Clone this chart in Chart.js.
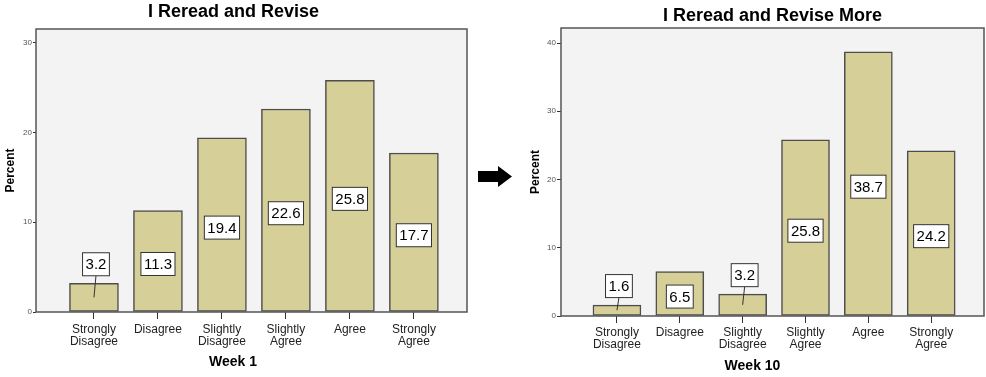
<!DOCTYPE html>
<html>
<head>
<meta charset="utf-8">
<script src="https://cdn.jsdelivr.net/npm/chart.js@4/dist/chart.umd.min.js"></script>
<style>
  body { margin: 0; background: #fff; }
  #wrap { position: relative; width: 986px; height: 377px; overflow: hidden; }
  canvas { position: absolute; top: 0; }
  #week1 { left: 0; }
  #week10 { left: 520px; }
  #arrow { left: 470px; top: 155px; }
</style>
</head>
<body>
<div id="wrap">
  <canvas id="week1" width="490" height="377"></canvas>
  <canvas id="week10" width="466" height="377"></canvas>
  <canvas id="arrow" width="50" height="40"></canvas>
</div>
<script>
// 類別與數值
const categories = [
  ["Strongly", "Disagree"],
  "Disagree",
  ["Slightly", "Disagree"],
  ["Slightly", "Agree"],
  "Agree",
  ["Strongly", "Agree"],
];
const week1Percent = [3.2, 11.3, 19.4, 22.6, 25.8, 17.7];
const week10Percent = [1.6, 6.5, 3.2, 25.8, 38.7, 24.2];
const yTicks1 = [0, 10, 20, 30];
const yTicks10 = [0, 10, 20, 30, 40];

const FONT = '"Liberation Sans", Arial, sans-serif';
const BAR_FILL = "#d6cf98";
const BAR_EDGE = "#4d4d4d";

// 圖表區背景與外框
const plotFrame = {
  id: "plotFrame",
  beforeDraw(chart) {
    const { ctx, chartArea: a } = chart;
    ctx.save();
    ctx.fillStyle = "#f3f3f3";
    ctx.fillRect(a.left, a.top, a.right - a.left, a.bottom - a.top);
    ctx.restore();
  },
  afterDatasetsDraw(chart) {
    const { ctx, chartArea: a } = chart;
    ctx.save();
    ctx.strokeStyle = "#555";
    ctx.lineWidth = 1.5;
    ctx.strokeRect(a.left, a.top, a.right - a.left, a.bottom - a.top);
    ctx.restore();
  },
};

// 白底數值標籤
const valueBoxes = {
  id: "valueBoxes",
  afterDatasetsDraw(chart) {
    const { ctx } = chart;
    const meta = chart.getDatasetMeta(0);
    const points = chart.data.datasets[0].data;
    ctx.save();
    ctx.font = "15px " + FONT;
    ctx.textAlign = "center";
    ctx.textBaseline = "middle";
    ctx.strokeStyle = "#333";
    ctx.lineWidth = 1;
    meta.data.forEach((bar, i) => {
      const txt = points[i].y.toFixed(1);
      const w = ctx.measureText(txt).width + 6;
      const h = 23;
      const mid = (bar.y + bar.base) / 2;
      let cx = bar.x;
      let cy = mid + 3;
      if (bar.base - bar.y < 35) {
        cx = bar.x + 2;
        cy = bar.y - 19;
        ctx.beginPath();
        ctx.moveTo(cx, cy + h / 2);
        ctx.lineTo(bar.x, mid);
        ctx.stroke();
      }
      ctx.fillStyle = "#fff";
      ctx.fillRect(cx - w / 2, cy - h / 2, w, h);
      ctx.strokeRect(cx - w / 2, cy - h / 2, w, h);
      ctx.fillStyle = "#000";
      ctx.fillText(txt, cx, cy + 1);
    });
    ctx.restore();
  },
};

// X 軸標題 (SPSS 的位置略偏左)
const xTitle = {
  id: "xTitle",
  afterDraw(chart, args, opts) {
    const { ctx, chartArea: a } = chart;
    ctx.save();
    ctx.font = "bold 14px " + FONT;
    ctx.fillStyle = "#000";
    ctx.textAlign = "center";
    ctx.textBaseline = "middle";
    ctx.fillText(opts.text, (a.left + a.right) / 2 + opts.dx, opts.y);
    ctx.restore();
  },
};

const makeChart = (id, title, values, yMax, yTickList, s) => {
  new Chart(document.getElementById(id), {
    type: "bar",
    data: {
      datasets: [
        {
          data: values.map((v, i) => ({ x: i, y: v })),
          backgroundColor: BAR_FILL,
          borderColor: BAR_EDGE,
          borderWidth: 1.5,
          borderSkipped: false,
          barThickness: s.barW,
        },
      ],
    },
    plugins: [plotFrame, valueBoxes, xTitle],
    options: {
      responsive: false,
      animation: false,
      events: [],
      layout: { padding: { left: 0, right: s.padRight, top: 0, bottom: 0 } },
      plugins: {
        legend: { display: false },
        tooltip: { enabled: false },
        title: {
          display: true,
          text: title,
          fullSize: s.fullSize,
          color: "#000",
          font: { family: FONT, size: 18, weight: "bold", lineHeight: 1.2 },
          padding: { top: s.titleTop, bottom: s.titleBottom },
        },
        xTitle: { text: s.xText, dx: s.xDx, y: s.xY },
      },
      scales: {
        x: {
          type: "linear",
          offset: false,
          min: s.xMin,
          max: s.xMax,
          afterBuildTicks: (scale) => {
            scale.ticks = categories.map((_, i) => ({ value: i }));
          },
          afterFit: (scale) => {
            scale.height = s.xHeight;
          },
          border: { display: false },
          grid: {
            offset: false,
            drawOnChartArea: false,
            drawTicks: true,
            tickLength: 7,
            color: "#333",
          },
          ticks: {
            autoSkip: false,
            maxRotation: 0,
            padding: s.xPad,
            color: "#222",
            font: { family: FONT, size: 12, lineHeight: 1.0 },
            callback: (value) => categories[value],
          },
        },
        y: {
          min: 0,
          max: yMax,
          afterBuildTicks: (scale) => {
            scale.ticks = yTickList.map((v) => ({ value: v }));
          },
          afterFit: (scale) => {
            scale.width = s.yWidth;
          },
          border: { display: false },
          grid: {
            drawOnChartArea: false,
            drawTicks: true,
            tickLength: s.yTick,
            color: "#333",
          },
          ticks: {
            padding: 1,
            color: "#555",
            font: { family: FONT, size: 8 },
          },
          title: {
            display: true,
            text: "Percent",
            color: "#000",
            font: { family: FONT, size: 12, weight: "bold", lineHeight: 1.2 },
            padding: { top: s.yTitlePad, bottom: 0 },
          },
        },
      },
    },
  });
};

makeChart("week1", "I Reread and Revise", week1Percent, 31.5, yTicks1, {
  barW: 49,
  padRight: 23,
  fullSize: true,
  titleTop: 1.7,
  titleBottom: 5.7,
  xMin: -0.906,
  xMax: 5.83,
  xHeight: 65,
  xPad: 5,
  yWidth: 36,
  yTick: 3,
  yTitlePad: 3.8,
  xText: "Week 1",
  xDx: -18.5,
  xY: 362,
});

makeChart("week10", "I Reread and Revise More", week10Percent, 42.2, yTicks10, {
  barW: 48,
  padRight: 2,
  fullSize: false,
  titleTop: 5.5,
  titleBottom: 0.9,
  xMin: -0.89,
  xMax: 5.84,
  xHeight: 61,
  xPad: 3.5,
  yWidth: 41,
  yTick: 4,
  yTitlePad: 8.8,
  xText: "Week 10",
  xDx: -20,
  xY: 366,
});

// 中間的箭頭
const arrowCtx = document.getElementById("arrow").getContext("2d");
arrowCtx.fillStyle = "#000";
arrowCtx.beginPath();
arrowCtx.moveTo(8, 16);
arrowCtx.lineTo(28, 16);
arrowCtx.lineTo(28, 11);
arrowCtx.lineTo(42, 21.5);
arrowCtx.lineTo(28, 32);
arrowCtx.lineTo(28, 27);
arrowCtx.lineTo(8, 27);
arrowCtx.closePath();
arrowCtx.fill();
</script>
</body>
</html>
